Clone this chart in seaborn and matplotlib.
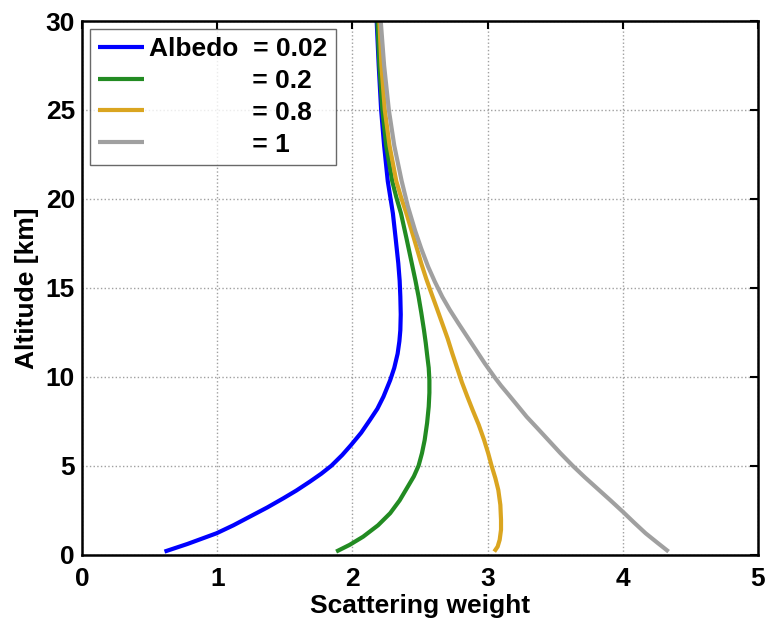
import numpy as np
import pandas as pd
import matplotlib
matplotlib.use("Agg")
import matplotlib.pyplot as plt
import seaborn as sns

# Scattering weight profiles (weight vs altitude [km]) for each surface albedo
alt_002 = [0.17, 0.6, 1.2, 1.65, 2.13, 2.65, 3.17, 3.6, 4.1, 4.55, 5.0, 5.6, 6.16, 6.85, 7.57,
           8.2, 8.88, 9.81, 10.5, 11.3, 12.0, 12.62, 13.5, 14.5, 15.4, 16.37, 17.8, 19.18,
           21.0, 23.0, 25.0, 27.5, 30.0]
w_002 = [0.61, 0.78, 0.995, 1.12, 1.24, 1.37, 1.49, 1.585, 1.685, 1.77, 1.845, 1.925, 1.99, 2.065, 2.13,
         2.185, 2.23, 2.28, 2.31, 2.335, 2.348, 2.355, 2.358, 2.355, 2.35, 2.34, 2.32, 2.30,
         2.262, 2.235, 2.213, 2.195, 2.18]

alt_02 = [0.17, 0.55, 1.01, 1.65, 2.33, 3.05, 3.82, 4.4, 5.0, 5.7, 6.44, 7.4, 8.32, 9.1, 9.81,
          10.5, 11.12, 11.9, 12.62, 13.6, 14.5, 15.4, 16.37, 17.8, 19.18, 20.1, 21.0, 23.0,
          25.0, 27.5, 30.0]
w_02 = [1.88, 1.98, 2.08, 2.19, 2.28, 2.35, 2.41, 2.455, 2.49, 2.515, 2.535, 2.553, 2.565, 2.57, 2.57,
        2.565, 2.555, 2.543, 2.53, 2.51, 2.49, 2.467, 2.44, 2.40, 2.36, 2.325, 2.295, 2.25,
        2.222, 2.20, 2.185]

alt_08 = [0.17, 0.45, 0.83, 1.4, 1.95, 2.8, 3.63, 4.3, 5.0, 5.7, 6.44, 7.3, 8.13, 8.9, 9.7,
          10.5, 11.3, 12.15, 13.0, 13.85, 14.69, 15.5, 16.37, 17.8, 19.18, 20.1, 21.0, 23.0,
          25.0, 27.5, 30.0]
w_08 = [3.05, 3.075, 3.09, 3.10, 3.10, 3.095, 3.08, 3.058, 3.03, 3.005, 2.975, 2.935, 2.89, 2.85, 2.81,
        2.775, 2.74, 2.705, 2.665, 2.625, 2.585, 2.547, 2.51, 2.455, 2.40, 2.36, 2.325, 2.275,
        2.24, 2.215, 2.20]

alt_1 = [0.17, 0.65, 1.2, 1.8, 2.42, 3.05, 3.7, 4.35, 5.0, 5.7, 6.4, 7.1, 7.75, 8.4, 9.0, 9.5,
         10.0, 10.75, 11.5, 12.25, 13.0, 13.75, 14.5, 15.35, 16.2, 17.2, 18.2, 19.6, 21.0,
         23.0, 25.0, 27.5, 30.0]
w_1 = [4.34, 4.26, 4.17, 4.085, 4.00, 3.91, 3.815, 3.72, 3.63, 3.54, 3.455, 3.37, 3.29, 3.22, 3.155, 3.10,
       3.05, 2.98, 2.915, 2.85, 2.785, 2.722, 2.665, 2.61, 2.56, 2.51, 2.465, 2.41, 2.365,
       2.31, 2.27, 2.235, 2.21]

albedo_labels = ["0.02", "0.2", "0.8", "1"]
colors = ["#0000ff", "#228b22", "#daa520", "#a0a0a0"]

frames = []
for lab, a, w in zip(albedo_labels, [alt_002, alt_02, alt_08, alt_1], [w_002, w_02, w_08, w_1]):
    frames.append(pd.DataFrame({"weight": w, "altitude": a, "albedo": lab}))
df = pd.concat(frames, ignore_index=True)

sns.set_style("white")
plt.rcParams["font.family"] = ["Liberation Sans", "DejaVu Sans"]
plt.rcParams["font.weight"] = "bold"
for key in ("text.color", "axes.labelcolor", "xtick.color", "ytick.color"):
    plt.rcParams[key] = "black"

fig = plt.figure(figsize=(7.67, 6.19), dpi=100)
ax = fig.add_axes([0.107, 0.104, 0.881, 0.862])

sns.lineplot(data=df, x="weight", y="altitude", hue="albedo",
             hue_order=albedo_labels, palette=colors, sort=False,
             estimator=None, linewidth=3, legend=False, ax=ax)
for ln in ax.get_lines():
    ln.set_solid_joinstyle("round")
    ln.set_solid_capstyle("butt")

ax.set_xlim(0, 5)
ax.set_ylim(0, 30)
ax.set_xticks([0, 1, 2, 3, 4, 5])
ax.set_yticks([0, 5, 10, 15, 20, 25, 30])
ax.grid(True, linestyle=":", color="#888888", linewidth=1.0, alpha=0.8)
ax.tick_params(direction="in", length=6, width=1.5, top=True, right=True,
               labelsize=19, colors="black")
ax.tick_params(axis="x", pad=9)
ax.tick_params(axis="y", pad=5)
for lbl in ax.get_xticklabels() + ax.get_yticklabels():
    lbl.set_fontweight("bold")
for sp in ax.spines.values():
    sp.set_linewidth(1.8)
    sp.set_color("black")

ax.set_xlabel("Scattering weight", fontsize=19, fontweight="bold", labelpad=2, color="black")
ax.set_ylabel("Altitude [km]", fontsize=19, fontweight="bold", labelpad=5, color="black")

pad = " " * 14
legend_text = ["Albedo  = " + albedo_labels[0]] + [pad + "= " + a for a in albedo_labels[1:]]
leg = ax.legend(ax.get_lines()[:4], legend_text, loc="upper left",
                frameon=True, fancybox=False, edgecolor="#444444",
                handlelength=1.75, handletextpad=0.2, borderpad=0.3,
                labelspacing=0.3, borderaxespad=0.3,
                prop={"weight": "bold", "size": 19})
leg.get_frame().set_linewidth(1.0)
for t in leg.get_texts():
    t.set_color("black")

fig.savefig("out.png", dpi=100)
